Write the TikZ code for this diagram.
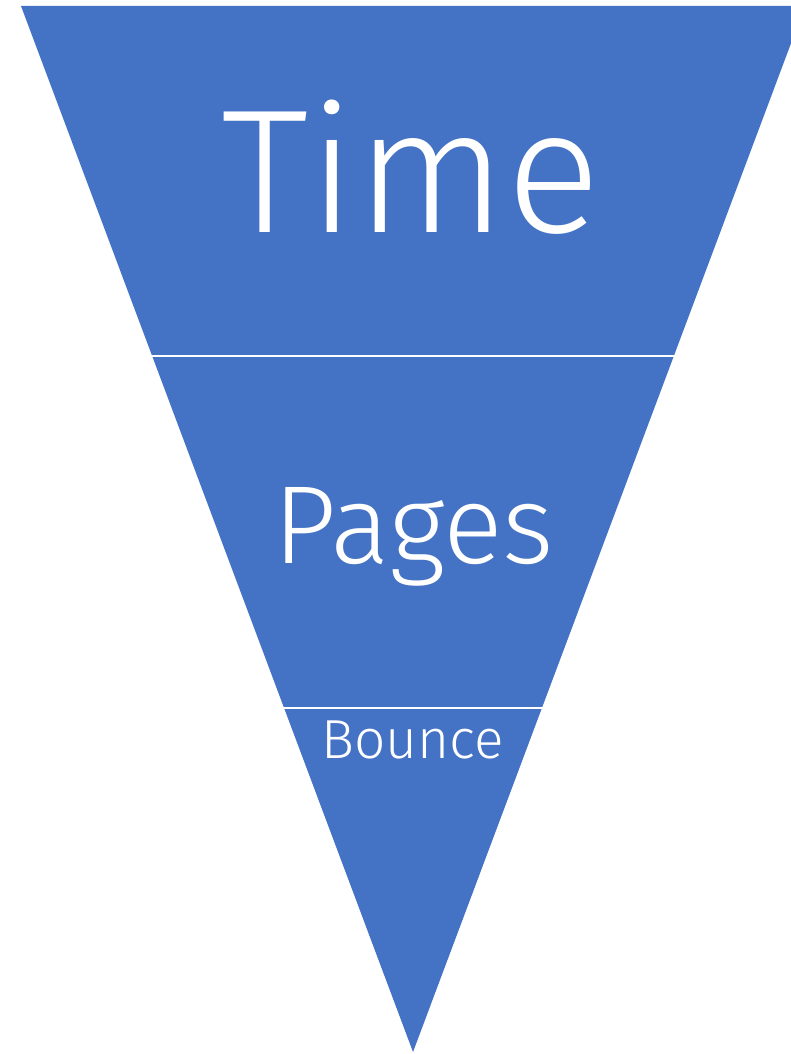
\documentclass[tikz,border=0pt]{standalone}
\usepackage{fontspec}
\setmainfont{Fira Sans Light}
\definecolor{funnelblue}{HTML}{4472C4}
\tikzset{
  label text/.style={text=white, anchor=base, inner sep=0pt},
  divider/.style={draw=white, line width=2.2pt}
}
\begin{document}
\begin{tikzpicture}[x=1pt,y=-1pt]
\useasboundingbox (0,0) rectangle (791,1054);
\clip (0,0) rectangle (791,1054);
\coordinate (tl) at (21,6);
\coordinate (tr) at (805,6);
\coordinate (apex) at (413,1052);
\fill[funnelblue] (tl) -- (tr) -- (apex) -- cycle;
\coordinate (d1l) at (150,356);
\coordinate (d1r) at (676,356);
\coordinate (d2l) at (282,708);
\coordinate (d2r) at (544,708);
\draw[divider] (d1l) -- (d1r);
\draw[divider] (d2l) -- (d2r);
\node[label text, font=\fontsize{176}{176}\selectfont] (time) at (411,232) {Time};
\node[label text, font=\fontsize{111}{111}\selectfont] (pages) at (414,563) {Pages};
\node[label text, font=\fontsize{55}{55}\selectfont] (bounce) at (413,758) {Bounce};
\end{tikzpicture}
\end{document}
